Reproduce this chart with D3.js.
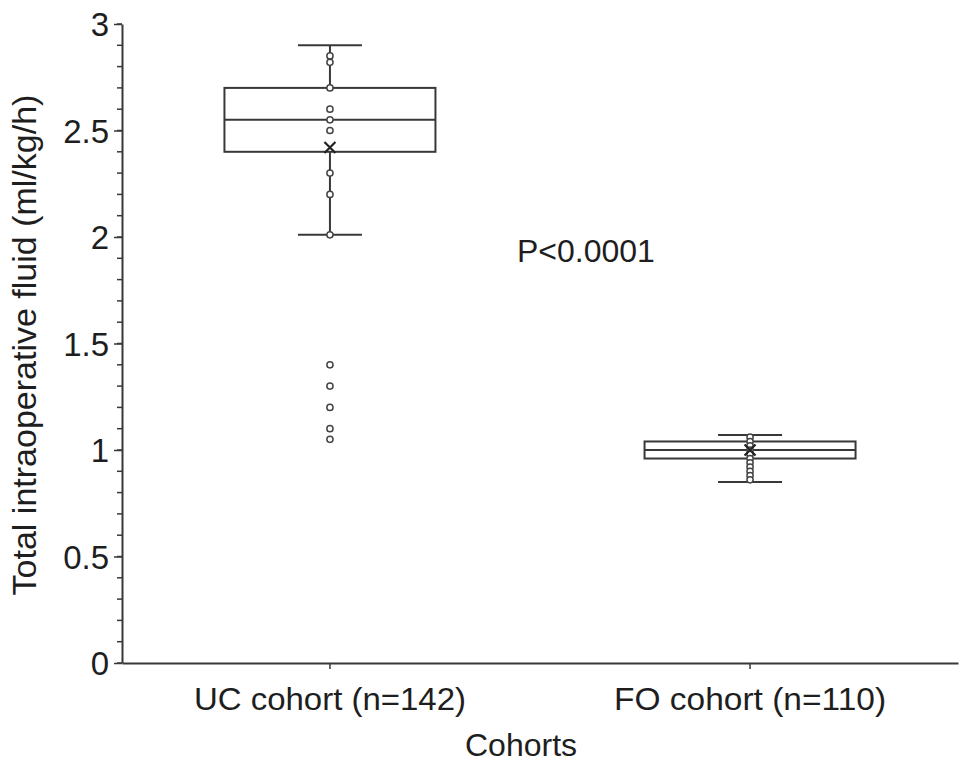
<!DOCTYPE html>
<html>
<head>
<meta charset="utf-8">
<script src="https://cdn.jsdelivr.net/npm/d3@7"></script>
<style>
  html, body { margin: 0; padding: 0; background: #fff; }
  svg { display: block; }
  text { font-family: Arial, "Liberation Sans", Helvetica, sans-serif; fill: #1e1e1e; }
</style>
</head>
<body>
<svg id="chart" width="969" height="767"></svg>
<script>
// ---- data ----
const categories = ["UC cohort (n=142)", "FO cohort (n=110)"];
const whiskerLow  = [2.01, 0.85];
const q1          = [2.40, 0.96];
const median      = [2.55, 1.00];
const q3          = [2.70, 1.04];
const whiskerHigh = [2.90, 1.07];
const means       = [2.42, 1.00];
const ucPoints = [2.85, 2.82, 2.70, 2.60, 2.55, 2.50, 2.30, 2.20, 2.01, 1.40, 1.30, 1.20, 1.10, 1.05];
const foPoints = [1.06, 1.04, 1.02, 1.00, 0.98, 0.96, 0.94, 0.92, 0.90, 0.88, 0.86];
const yTicks = [0, 0.5, 1, 1.5, 2, 2.5, 3];
const yMinorTicks = d3.range(0, 31).map(i => i / 10);
const pLabel = "P<0.0001";
const xTitle = "Cohorts";
const yTitle = "Total intraoperative fluid (ml/kg/h)";

(function () {
// ---- layout ----
const svg = d3.select("#chart");
const mLeft = 122, mRight = 958, mTop = 24, mBottom = 663;
const ink = "#383838";

const x = d3.scaleBand().domain(categories).range([mLeft, mRight]).paddingInner(0).paddingOuter(-0.005);
const y = d3.scaleLinear().domain([0, 3]).range([mBottom, mTop]);
const boxW = 211, capW = 64;

// minor ticks
svg.append("g").selectAll("line").data(yMinorTicks).join("line")
  .attr("x1", mLeft - 5).attr("x2", mLeft)
  .attr("y1", d => y(d)).attr("y2", d => y(d))
  .attr("stroke", ink).attr("stroke-width", 1.5);

// y axis
const yAxis = svg.append("g").attr("transform", `translate(${mLeft},0)`)
  .call(d3.axisLeft(y).tickValues(yTicks).tickFormat(d3.format("~g")).tickSizeInner(8).tickSizeOuter(0).tickPadding(5));
yAxis.select(".domain").attr("stroke", ink).attr("stroke-width", 2);
yAxis.selectAll(".tick line").attr("stroke", ink).attr("stroke-width", 1.5);
yAxis.selectAll(".tick text").attr("font-size", 33).attr("font-family", "Arial, 'Liberation Sans', sans-serif").attr("fill", "#1e1e1e").attr("dy", "0.36em");

// x axis
const xAxis = svg.append("g").attr("transform", `translate(0,${mBottom})`)
  .call(d3.axisBottom(x).tickSizeInner(6).tickSizeOuter(0).tickPadding(0));
xAxis.select(".domain").attr("stroke", ink).attr("stroke-width", 2);
xAxis.selectAll(".tick line").attr("stroke", ink).attr("stroke-width", 1.5);
xAxis.selectAll(".tick text").attr("font-size", 32).attr("font-family", "Arial, 'Liberation Sans', sans-serif").attr("fill", "#1e1e1e")
  .attr("y", 47).attr("dy", 0)
  .attr("textLength", 272).attr("lengthAdjust", "spacingAndGlyphs");

// boxes
const g = svg.append("g");
categories.forEach((c, i) => {
  const cx = x(c) + x.bandwidth() / 2;
  g.append("line").attr("x1", cx).attr("x2", cx).attr("y1", y(whiskerHigh[i])).attr("y2", y(q3[i]))
    .attr("stroke", ink).attr("stroke-width", 2);
  g.append("line").attr("x1", cx).attr("x2", cx).attr("y1", y(q1[i])).attr("y2", y(whiskerLow[i]))
    .attr("stroke", ink).attr("stroke-width", 2);
  [whiskerHigh[i], whiskerLow[i]].forEach(v => {
    g.append("line").attr("x1", cx - capW / 2).attr("x2", cx + capW / 2).attr("y1", y(v)).attr("y2", y(v))
      .attr("stroke", ink).attr("stroke-width", 2);
  });
  g.append("rect").attr("x", cx - boxW / 2).attr("y", y(q3[i]))
    .attr("width", boxW).attr("height", y(q1[i]) - y(q3[i]))
    .attr("fill", "none").attr("stroke", ink).attr("stroke-width", 2);
  g.append("line").attr("x1", cx - boxW / 2).attr("x2", cx + boxW / 2).attr("y1", y(median[i])).attr("y2", y(median[i]))
    .attr("stroke", ink).attr("stroke-width", 2);
});

// points
const pts = [ucPoints, foPoints];
categories.forEach((c, i) => {
  const cx = x(c) + x.bandwidth() / 2;
  g.append("g").selectAll("circle").data(pts[i]).join("circle")
    .attr("cx", cx).attr("cy", d => y(d)).attr("r", 3.1)
    .attr("fill", "#fff").attr("stroke", "#444").attr("stroke-width", 1.5);
});

// means (x marks)
categories.forEach((c, i) => {
  const cx = x(c) + x.bandwidth() / 2, cy = y(means[i]), s = 5.5;
  g.append("path").attr("d", `M${cx - s},${cy - s}L${cx + s},${cy + s}M${cx - s},${cy + s}L${cx + s},${cy - s}`)
    .attr("stroke", "#222").attr("stroke-width", 2.2).attr("fill", "none");
});

// annotations
svg.append("text").attr("x", 517).attr("y", 262).attr("font-size", 32).text(pLabel);
svg.append("text").attr("x", 521).attr("y", 756).attr("text-anchor", "middle").attr("font-size", 32).text(xTitle);
svg.append("text").attr("transform", "translate(36,345) rotate(-90)").attr("text-anchor", "middle").attr("font-size", 34).text(yTitle);
})();
</script>
</body>
</html>
